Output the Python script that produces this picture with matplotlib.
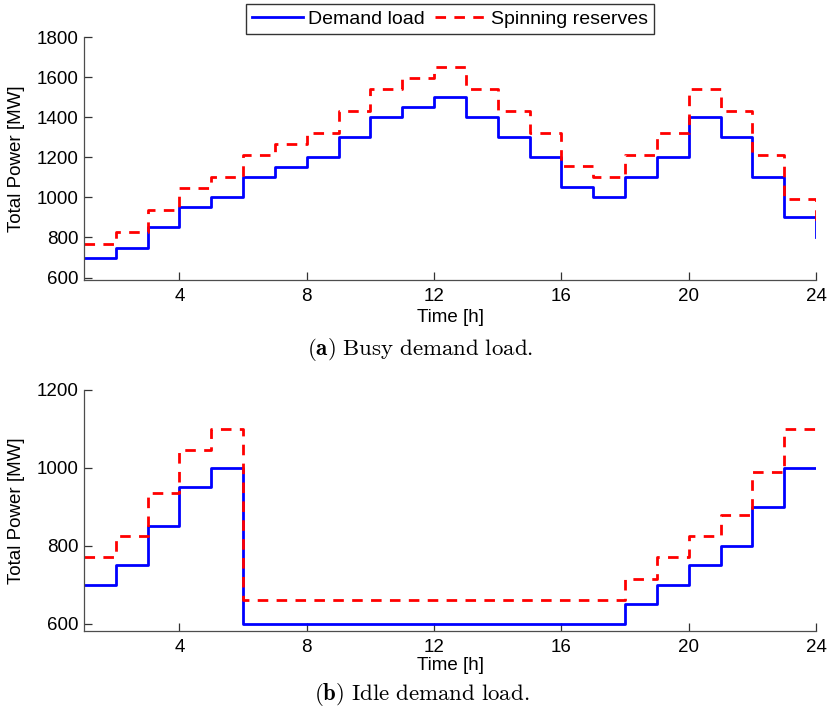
import matplotlib
matplotlib.use("Agg")
import matplotlib.pyplot as plt

plt.rcParams['font.family'] = ['Liberation Sans', 'DejaVu Sans']
plt.rcParams['mathtext.fontset'] = 'cm'

hours = list(range(1, 25))

busy_demand = [700, 750, 850, 950, 1000, 1100, 1150, 1200, 1300, 1400, 1450, 1500,
               1400, 1300, 1200, 1050, 1000, 1100, 1200, 1400, 1300, 1100, 900, 800]
busy_reserve = [770, 825, 935, 1045, 1100, 1210, 1265, 1320, 1430, 1540, 1595, 1650,
                1540, 1430, 1320, 1155, 1100, 1210, 1320, 1540, 1430, 1210, 990, 880]

idle_demand = [700, 750, 850, 950, 1000, 600, 600, 600, 600, 600, 600, 600,
               600, 600, 600, 600, 600, 650, 700, 750, 800, 900, 1000, 1000]
idle_reserve = [770, 825, 935, 1045, 1100, 660, 660, 660, 660, 660, 660, 660,
                660, 660, 660, 660, 660, 715, 770, 825, 880, 990, 1100, 1100]

x_ticks = [4, 8, 12, 16, 20, 24]
busy_yticks = [600, 800, 1000, 1200, 1400, 1600, 1800]
idle_yticks = [600, 800, 1000, 1200]

W, H = 830, 724
fig = plt.figure(figsize=(W / 100, H / 100), dpi=100)

def axes_px(left, top, right, bottom):
    return fig.add_axes([left / W, 1 - bottom / H, (right - left) / W, (bottom - top) / H])

ax1 = axes_px(84, 37, 816, 280)
ax2 = axes_px(84, 390, 816, 631)

fs = 13.5
lw = 2.0
dash = (3.8, 3.0)

def style(ax, yticks, ylim, xlabel_y):
    ax.set_xlim(1, 24)
    ax.set_ylim(*ylim)
    ax.set_xticks(x_ticks)
    ax.set_yticks(yticks)
    for s in ('top', 'right'):
        ax.spines[s].set_visible(False)
    for s in ('left', 'bottom'):
        ax.spines[s].set_color('0.3')
        ax.spines[s].set_linewidth(0.9)
    ax.tick_params(direction='in', length=6, width=0.9, color='0.2',
                   labelsize=fs, labelcolor='black')
    ax.tick_params(axis='x', pad=6)
    ax.tick_params(axis='y', pad=4)
    ax.set_xlabel('Time [h]', fontsize=fs)
    ax.set_ylabel('Total Power [MW]', fontsize=fs)
    ax.xaxis.label.set_va('center')
    ax.yaxis.label.set_va('center')
    ax.xaxis.set_label_coords(0.5, xlabel_y)
    ax.yaxis.set_label_coords((17 - 84) / 732, 0.5)

h_d, = ax1.step(hours, busy_demand, where='post', color=(0, 0, 1), lw=lw,
                label='Demand load')
h_r, = ax1.step(hours, busy_reserve, where='post', color=(1, 0, 0), lw=lw,
                linestyle=(0, dash), label='Spinning reserves')
style(ax1, busy_yticks, (588, 1800), (280 - 317) / 243)

ax2.step(hours, idle_demand, where='post', color=(0, 0, 1), lw=lw)
ax2.step(hours, idle_reserve, where='post', color=(1, 0, 0), lw=lw,
         linestyle=(0, dash))
style(ax2, idle_yticks, (581, 1200), (631 - 665) / 241)

leg = fig.legend(handles=[h_d, h_r], loc='center', bbox_to_anchor=(450 / W, 1 - 19 / H),
                 ncol=2, fontsize=14, frameon=True, fancybox=False,
                 handlelength=2.6, handletextpad=0.27, columnspacing=0.55,
                 borderpad=0.3, borderaxespad=0)
leg.get_frame().set_edgecolor('black')
leg.get_frame().set_linewidth(1.0)

fig.text(420 / W, 1 - 350 / H, r'$\mathbf{(a)}\ \mathrm{Busy\ demand\ load.}$',
         ha='center', va='center', fontsize=16.5)
fig.text(422 / W, 1 - 695 / H, r'$\mathbf{(b)}\ \mathrm{Idle\ demand\ load.}$',
         ha='center', va='center', fontsize=16.5)

fig.savefig('out.png', dpi=100)
